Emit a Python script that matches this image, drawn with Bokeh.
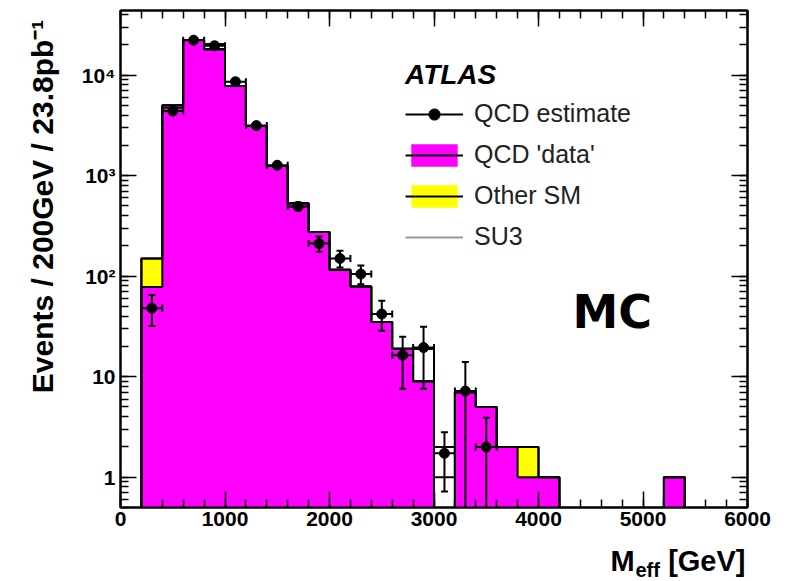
import math
import numpy as np
from bokeh.plotting import figure
from bokeh.layouts import column, row
from bokeh.models import (Label, Legend, LegendItem, LinearAxis, LogAxis, CustomLabelingPolicy,
                          SingleIntervalTicker, LogTicker, CustomJSTickFormatter, Range1d)
from bokeh.embed import file_html
from bokeh.resources import INLINE

# ---------------- data (200 GeV bins, 0 - 6000 GeV) ----------------
bin_edges = list(range(0, 6200, 200))
qcd_data = [0, 78, 4770, 22400, 18100, 7800, 3130, 1250, 532, 276, 116, 79, 35, 19, 9, 0,
            7, 5, 2, 1, 1, 0, 0, 0, 0, 0, 1, 0, 0, 0]
other_sm = [0, 72, 260, 0, 0, 0, 0, 0, 0, 0, 0, 0, 0, 0, 0, 0,
            0, 0, 0, 1, 0, 0, 0, 0, 0, 0, 0, 0, 0, 0]
su3 = [0, 0, 0, 0, 2200, 0, 0, 0, 0, 0, 0, 0, 0, 0, 10, 2,
       0, 0, 0, 0, 0, 0, 0, 0, 0, 0, 0, 0, 0, 0]

# QCD estimate points (bin index, value, upper, lower)
est_bin = [1, 2, 3, 4, 5, 6, 7, 8, 9, 10, 11, 12, 13, 14, 15, 16, 17]
est_val = [48, 4400, 22300, 19600, 8600, 3150, 1270, 494, 211, 150, 105, 42, 16.4, 19.5, 1.73, 7.2, 2.0]
est_up = [65, 4650, 23000, 20200, 8900, 3280, 1340, 540, 248, 179, 128, 57, 25, 31.5, 2.8, 14, 3.9]
est_lo = [32, 4150, 21600, 19000, 8300, 3020, 1200, 452, 175, 122, 83, 28.6, 7.6, 7.6, 0.72, 0, 0]

x_ticks_interval = 1000

# ---------------- derived ----------------
FLOOR = 1e-3
edges = np.array(bin_edges, dtype=float)
qcd = np.array(qcd_data, dtype=float)
oth = np.array(other_sm, dtype=float)
sig = np.array(su3, dtype=float)
stack = qcd + oth
total = stack + sig
left, right = edges[:-1], edges[1:]

def step_path(vals):
    v = np.where(vals > 0, vals, FLOOR)
    xs, ys = [], []
    for i in range(len(v)):
        xs += [left[i], right[i]]
        ys += [v[i], v[i]]
    return np.array(xs), np.array(ys)

W, H = 785, 581
YT_W = 62     # strip holding the y-axis title
XT_H = 40     # strip holding the x-axis title
FONT = "Liberation Sans"

p = figure(width=W - YT_W, height=H - XT_H, x_axis_type="linear", y_axis_type="log",
           x_range=Range1d(0, 6000), y_range=Range1d(0.5, 44000),
           output_backend="svg", toolbar_location=None,
           min_border_left=120 - YT_W, min_border_right=38, min_border_top=10,
           min_border_bottom=34)
p.background_fill_color = "white"
p.border_fill_color = "white"
p.outline_line_color = "black"
p.outline_line_width = 2
p.xgrid.visible = False
p.ygrid.visible = False

xs_q, ys_q = step_path(qcd)
xs_s, ys_s = step_path(stack)
xs_t, ys_t = step_path(total)

# QCD 'data' (magenta) and Other SM (yellow) stacked
r_qcd = p.varea(x=xs_q, y1=np.full(len(xs_q), FLOOR), y2=ys_q, fill_color="#ff00ff")
r_oth = p.varea(x=xs_s, y1=ys_q, y2=ys_s, fill_color="#ffff00")
# SU3 stacked (white, outlined)
m3 = sig > 0
p.quad(left=left[m3], right=right[m3], bottom=np.maximum(stack[m3], 1.0), top=total[m3],
       fill_color="white", line_color="black", line_width=2)

r_qcd_line = p.line(xs_q, ys_q, line_color="black", line_width=2)
r_stack_line = p.line(xs_s, ys_s, line_color="black", line_width=2)
p.line(xs_t, ys_t, line_color="black", line_width=2)

# QCD estimate points
eb = np.array(est_bin)
ex = left[eb] + 100
ev = np.array(est_val)
eu = np.array(est_up)
el = np.array(est_lo)
el_plot = np.where(el > 0, el, FLOOR)
r_hbar = p.segment(x0=left[eb], x1=right[eb], y0=ev, y1=ev, line_color="black", line_width=2)
p.segment(x0=ex, x1=ex, y0=el_plot, y1=eu, line_color="black", line_width=2)
p.scatter(x=ex, y=eu, marker="dash", size=7, line_color="black", line_width=2)
ml = el > 0
p.scatter(x=ex[ml], y=el[ml], marker="dash", size=7, line_color="black", line_width=2)
p.scatter(x=left[eb], y=ev, marker="dash", size=7, angle=math.pi / 2, line_color="black", line_width=2)
p.scatter(x=right[eb], y=ev, marker="dash", size=7, angle=math.pi / 2, line_color="black", line_width=2)
r_pts = p.scatter(x=ex, y=ev, size=10, marker="circle", fill_color="black", line_color="black")

# SU3 (legend line, grey)
r_su3 = p.line(x=[0, 0], y=[FLOOR, FLOOR], line_color="#999999", line_width=2)

# ---------------- axes ----------------
fmt = CustomJSTickFormatter(code="""
const e = Math.round(Math.log10(tick));
if (e == 0) return "1";
if (e == 1) return "10";
const sup = ["\\u2070","\\u00b9","\\u00b2","\\u00b3","\\u2074","\\u2075","\\u2076","\\u2077","\\u2078","\\u2079"];
return "10" + String(e).split("").map(c => sup[parseInt(c)]).join("");
""")

def style_axis(ax, labels=True):
    ax.axis_line_color = "black"
    ax.axis_line_width = 2
    ax.major_tick_in = 16
    ax.major_tick_out = 0
    ax.minor_tick_in = 8
    ax.minor_tick_out = 0
    ax.major_tick_line_color = "black"
    ax.major_tick_line_width = 1.5
    ax.minor_tick_line_color = "black"
    ax.minor_tick_line_width = 1.5
    if labels:
        ax.major_label_text_font = FONT
        ax.major_label_text_font_style = "bold"
        ax.major_label_text_font_size = "21px"
        ax.major_label_text_color = "black"
    else:
        ax.major_label_text_font_size = "2px"
        ax.major_label_standoff = 0
        ax.major_label_policy = CustomLabelingPolicy(code="return new Set()")

p.xaxis.ticker = SingleIntervalTicker(interval=x_ticks_interval, num_minor_ticks=5)
p.yaxis.ticker = LogTicker(mantissas=[1], num_minor_ticks=10)
p.yaxis.formatter = fmt
style_axis(p.xaxis[0])
style_axis(p.yaxis[0])
p.xaxis.major_label_standoff = 4
p.yaxis.major_label_standoff = 5

top_ax = LinearAxis(ticker=SingleIntervalTicker(interval=x_ticks_interval, num_minor_ticks=5))
style_axis(top_ax, labels=False)
p.add_layout(top_ax, "above")
right_ax = LogAxis(ticker=LogTicker(mantissas=[1], num_minor_ticks=10))
style_axis(right_ax, labels=False)
p.add_layout(right_ax, "right")

p.add_layout(Label(x=452, y=196, x_units="screen", y_units="screen", text="MC",
                   text_align="left", text_baseline="alphabetic",
                   text_font="DejaVu Sans", text_font_style="bold", text_font_size="46px",
                   text_color="black"))

# legend
legend = Legend(items=[
    LegendItem(label="QCD estimate", renderers=[r_hbar, r_pts]),
    LegendItem(label="QCD 'data'", renderers=[r_qcd, r_qcd_line]),
    LegendItem(label="Other SM", renderers=[r_oth, r_stack_line]),
    LegendItem(label="SU3", renderers=[r_su3]),
], location=(285, 256), title="ATLAS")
legend.title_text_font = FONT
legend.title_text_font_style = "bold italic"
legend.title_text_font_size = "28px"
legend.title_text_color = "black"
legend.title_standoff = 8
legend.label_text_font = FONT
legend.label_text_font_size = "25px"
legend.label_text_color = "#222222"
legend.glyph_width = 58
legend.glyph_height = 28
legend.label_height = 28
legend.label_standoff = 11
legend.spacing = 12
legend.padding = 0
legend.margin = 0
legend.border_line_alpha = 0
legend.background_fill_alpha = 0
p.add_layout(legend, "center")

# ---------------- axis-title strips ----------------
def blank(w, h):
    f = figure(width=w, height=h, x_range=Range1d(0, w), y_range=Range1d(0, h),
               x_axis_location=None, y_axis_location=None, min_border=0,
               output_backend="svg", toolbar_location=None)
    f.xgrid.visible = False
    f.ygrid.visible = False
    f.outline_line_color = None
    f.background_fill_color = "white"
    f.border_fill_color = "white"
    return f

ytitle = blank(YT_W, H - XT_H)
ytitle.add_layout(Label(x=42, y=H - XT_H - 10, text="Events / 200GeV / 23.8pb\u207b\u00b9",
                        angle=math.pi / 2, text_align="right", text_baseline="middle",
                        text_font=FONT, text_font_style="bold", text_font_size="30px",
                        text_color="black"))

xtitle = blank(W, XT_H)
xtitle.add_layout(Label(x=610, y=21, text="M", text_align="left", text_baseline="alphabetic",
                        text_font=FONT, text_font_style="bold", text_font_size="29px",
                        text_color="black"))
xtitle.add_layout(Label(x=635, y=12, text="eff", text_align="left", text_baseline="alphabetic",
                        text_font=FONT, text_font_style="bold", text_font_size="20px",
                        text_color="black"))
xtitle.add_layout(Label(x=745, y=21, text="[GeV]", text_align="right", text_baseline="alphabetic",
                        text_font=FONT, text_font_style="bold", text_font_size="29px",
                        text_color="black"))

page = column(row(ytitle, p, spacing=0), xtitle, spacing=0)

open("out.html", "w", encoding="utf-8").write(file_html(page, INLINE))
